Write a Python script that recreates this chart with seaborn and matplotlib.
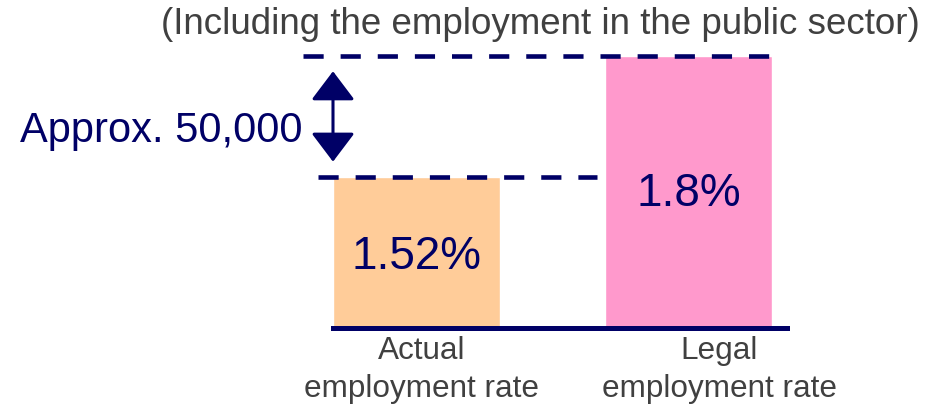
import numpy as np
import pandas as pd
import matplotlib
matplotlib.use('Agg')
import matplotlib.pyplot as plt
import seaborn as sns

# data
categories = ['Actual\nemployment rate', 'Legal\nemployment rate']
rates = [1.52, 1.8]
rate_labels = ['1.52%', '1.8%']
bar_colors = ['#FFCC99', '#FF99CC']
gap_label = 'Approx. 50,000'
subtitle = '(Including the employment in the public sector)'

navy = '#000066'
grey = '#404040'

sns.set_theme(style='white')
plt.rcParams['font.family'] = ['Liberation Sans', 'DejaVu Sans']

df = pd.DataFrame({'category': categories, 'rate': rates})

fig = plt.figure(figsize=(9.38, 4.08), dpi=100)
ax = fig.add_axes([0, 80 / 408, 1, 328 / 408])

sns.barplot(data=df, x='category', y='rate', hue='category',
            palette=bar_colors, saturation=1, width=0.614,
            legend=False, ax=ax)

# axis range chosen so the bars keep the proportions of the slide
ax.set_xlim(-416.5 / 272, (938 - 416.5) / 272)
ax.set_ylim(1.1704, 1.9296)
ax.set_xlabel('')
ax.set_ylabel('')
ax.set_xticks([])
ax.set_yticks([])
for side in ['top', 'left', 'right']:
    ax.spines[side].set_visible(False)
ax.spines['bottom'].set_color(navy)
ax.spines['bottom'].set_linewidth(3.6)
ax.spines['bottom'].set_bounds(-0.307, 1.362)
ax.patch.set_alpha(0)

# dashed reference lines at both rates
ax.hlines(rates[1], -0.417, 1.307, colors=navy, lw=3.3, linestyles=(0, (4.4, 3.7)))
ax.hlines(rates[0], -0.362, 0.664, colors=navy, lw=3.3, linestyles=(0, (4.4, 3.7)))

# double arrow for the gap
ax.annotate('', xy=(-0.307, rates[1]), xytext=(-0.307, rates[0]),
            arrowprops=dict(arrowstyle='<|-|>,head_length=0.9,head_width=0.68',
                            mutation_scale=20, color=navy, lw=2.2,
                            shrinkA=11, shrinkB=11))

# value labels inside bars
ylo = ax.get_ylim()[0]
label_dy = [0, 2]
for i, (v, lab) in enumerate(zip(rates, rate_labels)):
    ax.annotate(lab, xy=(i, (ylo + v) / 2), xytext=(0, label_dy[i]),
                textcoords='offset points', ha='center', va='center_baseline',
                fontsize=33, color=navy)

# category labels
label_dx = [3.7, 22]
for i, (cat, dx) in enumerate(zip(categories, label_dx)):
    ax.annotate(cat, xy=(i, 0), xycoords=('data', 'axes fraction'),
                xytext=(dx, -6), textcoords='offset points',
                ha='center', va='top', fontsize=22.7, color=grey,
                linespacing=1.32)

fig.text(20 / 938, 1 - 142 / 408, gap_label, ha='left', va='baseline',
         fontsize=30, color=navy)
fig.text(540 / 938, 1 - 34 / 408, subtitle, ha='center', va='baseline',
         fontsize=26.5, color=grey)

plt.savefig('out.png', dpi=100)
